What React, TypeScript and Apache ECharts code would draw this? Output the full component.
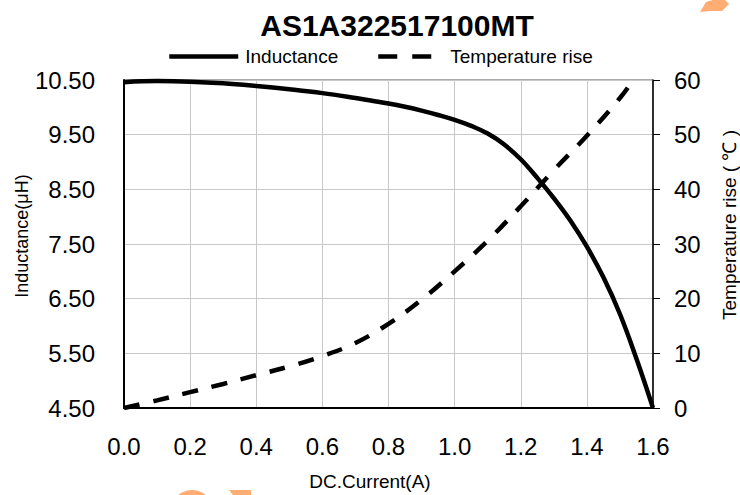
import React, { useEffect, useRef } from "react";
import * as echarts from "echarts";

const currentL = [0, 0.1, 0.2, 0.3, 0.4, 0.5, 0.6, 0.7, 0.75, 0.8, 0.85, 0.9, 0.95, 1.0, 1.05, 1.1, 1.15, 1.2, 1.25, 1.3, 1.35, 1.4, 1.45, 1.5, 1.55, 1.6];
const inductance = [10.46, 10.48, 10.47, 10.44, 10.39, 10.33, 10.26, 10.17, 10.12, 10.07, 10.01, 9.94, 9.86, 9.77, 9.66, 9.52, 9.32, 9.05, 8.71, 8.34, 7.93, 7.45, 6.89, 6.22, 5.4, 4.5];

const currentT = [0, 0.1, 0.2, 0.3, 0.4, 0.5, 0.6, 0.7, 0.8, 0.9, 1.0, 1.1, 1.2, 1.3, 1.4, 1.5, 1.54];
const tempRise = [0, 1.4, 2.9, 4.4, 6.0, 7.6, 9.5, 11.9, 15.4, 19.8, 25.0, 30.6, 36.9, 43.5, 49.8, 56.7, 60];

const titleText = "AS1A322517100MT";
const seriesNames = ["Inductance", "Temperature rise"];
const xName = "DC.Current(A)";
const yLeftName = "Inductance(μH)";
const yRightName = "Temperature rise ( ℃ )";

const FONT = "'Liberation Sans', Arial, sans-serif";

export default function App() {
  const ref = useRef<HTMLDivElement>(null);
  useEffect(() => {
    if (!ref.current) return;
    const chart = echarts.init(ref.current, undefined, { renderer: "svg" });
    const orange = "#FFAD72";
    chart.setOption({
      animation: false,
      backgroundColor: "#ffffff",
      title: {
        text: titleText,
        left: 392,
        top: 5,
        textAlign: "center",
        textStyle: { fontFamily: FONT, fontSize: 30, fontWeight: "bold", color: "#000" },
      },
      legend: [
        {
          data: [seriesNames[0]],
          left: 167,
          top: 47,
          padding: 0,
          itemWidth: 69,
          itemHeight: 10,
          itemStyle: { opacity: 0 },
          lineStyle: { width: 4.5 },
          textStyle: { fontFamily: FONT, fontSize: 19, color: "#000", padding: [0, 0, 0, 2] },
        },
        {
          data: [seriesNames[1]],
          left: 376,
          top: 47,
          padding: 0,
          itemWidth: 53,
          itemHeight: 10,
          itemStyle: { opacity: 0 },
          lineStyle: { width: 4.5, type: [19, 15] },
          textStyle: { fontFamily: FONT, fontSize: 19, color: "#000", padding: [0, 0, 0, 14] },
        },
      ],
      grid: {
        left: 124,
        right: 87,
        top: 80,
        bottom: 87,
        show: true,
        borderColor: "#555",
        borderWidth: 1,
        containLabel: false,
      },
      xAxis: {
        type: "value",
        min: 0,
        max: 1.6,
        interval: 0.2,
        axisLine: { show: true, lineStyle: { color: "#000", width: 2 } },
        axisTick: { show: false },
        axisLabel: {
          margin: 26,
          fontFamily: FONT,
          fontSize: 24,
          color: "#000",
          formatter: (v: number) => v.toFixed(1),
        },
        splitLine: { show: true, lineStyle: { color: "#c8c8c8", width: 1 } },
      },
      yAxis: [
        {
          type: "value",
          min: 4.5,
          max: 10.5,
          interval: 1,
          position: "left",
          axisLine: { show: true, lineStyle: { color: "#000", width: 2 } },
          axisTick: { show: false },
          axisLabel: {
            margin: 29,
            fontFamily: FONT,
            fontSize: 24,
            color: "#000",
            formatter: (v: number) => v.toFixed(2),
          },
          splitLine: { show: true, lineStyle: { color: "#c8c8c8", width: 1 } },
        },
        {
          type: "value",
          min: 0,
          max: 60,
          interval: 10,
          position: "right",
          axisLine: { show: true, lineStyle: { color: "#000", width: 1.5 } },
          axisTick: { show: true, inside: false, length: 7, lineStyle: { color: "#000", width: 1 } },
          axisLabel: {
            margin: 21,
            fontFamily: FONT,
            fontSize: 24,
            color: "#000",
          },
          splitLine: { show: false },
        },
      ],
      series: [
        {
          name: seriesNames[0],
          type: "line",
          yAxisIndex: 0,
          data: currentL.map((x, i) => [x, inductance[i]]),
          smooth: 0.4,
          showSymbol: false,
          symbol: "none",
          lineStyle: { color: "#000", width: 4.5 },
          itemStyle: { color: "#000" },
        },
        {
          name: seriesNames[1],
          type: "line",
          yAxisIndex: 1,
          data: currentT.map((x, i) => [x, tempRise[i]]),
          smooth: 0.4,
          showSymbol: false,
          symbol: "none",
          lineStyle: { color: "#000", width: 4.5, type: [16, 14] },
          itemStyle: { color: "#000" },
        },
      ],
      graphic: [
        {
          type: "text",
          x: 22,
          y: 236,
          rotation: Math.PI / 2,
          style: {
            text: yLeftName,
            font: `18px ${FONT}`,
            fill: "#000",
            align: "center",
            verticalAlign: "middle",
            textAlign: "center",
            textVerticalAlign: "middle",
          },
        },
        {
          type: "text",
          x: 729,
          y: 225,
          rotation: Math.PI / 2,
          style: {
            text: yRightName,
            font: `19px ${FONT}`,
            fill: "#000",
            align: "center",
            verticalAlign: "middle",
            textAlign: "center",
            textVerticalAlign: "middle",
          },
        },
        {
          type: "text",
          x: 370,
          y: 481,
          style: {
            text: xName,
            font: `19px ${FONT}`,
            fill: "#000",
            align: "center",
            verticalAlign: "middle",
            textAlign: "center",
            textVerticalAlign: "middle",
          },
        },
        {
          type: "polygon",
          shape: { points: [[700, 12], [706, 2], [713, 0], [725, 0], [729, 4], [722, 11], [710, 11]] },
          style: { fill: orange },
        },
        {
          type: "circle",
          shape: { cx: 192, cy: 511, r: 21 },
          style: { fill: orange },
        },
        {
          type: "polygon",
          shape: { points: [[229, 490], [251, 490], [251, 495], [233, 495]] },
          style: { fill: orange },
        },
      ],
    });
    return () => chart.dispose();
  }, []);
  return (
    <div
      ref={ref}
      style={{ position: "fixed", left: 0, top: 0, width: 740, height: 495, background: "#fff" }}
    />
  );
}
